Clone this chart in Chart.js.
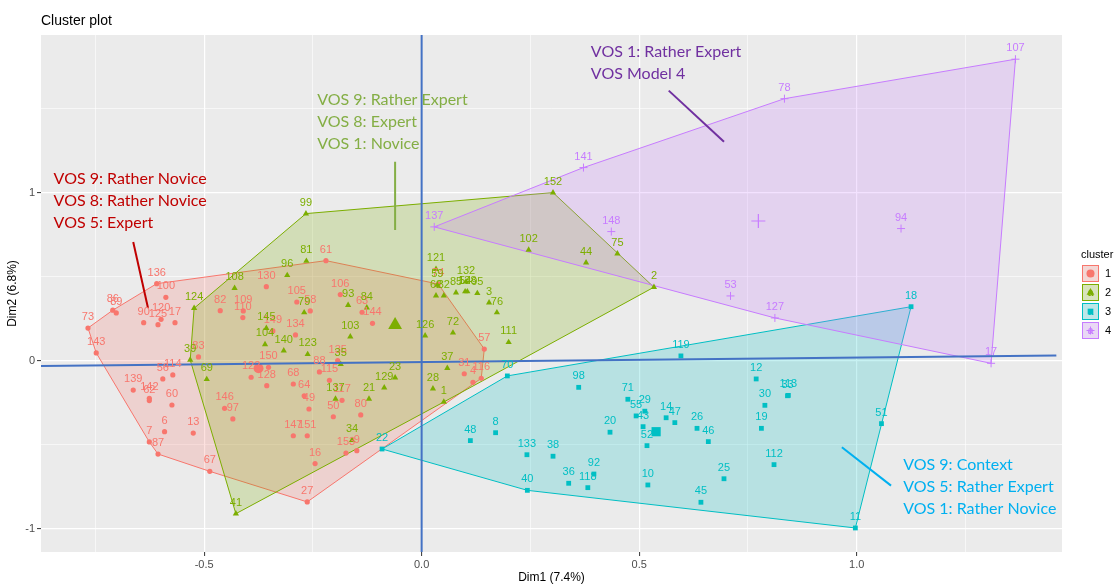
<!DOCTYPE html>
<html>
<head>
<meta charset="utf-8">
<script src="https://cdn.jsdelivr.net/npm/chart.js@4.4.1/dist/chart.umd.min.js"></script>
<style>
  html, body { margin: 0; padding: 0; background: #fff; }
  #wrap { width: 1116px; height: 585px; }
</style>
</head>
<body>
<div id="wrap"><canvas id="clusterChart" width="1116" height="585"></canvas></div>
<script>
// observations per cluster: id, Dim1, Dim2
const cluster1Ids = ['136','100','86','89','73','90','120','125','17','143','83','114','56','139','142','62','60','6','13','7','87','67','146','97','122','82','109','110','130','61','106','105','58','63','144','149','134','135','150','128','88','115','68','64','49','117','80','50','147','151','27','16','153','9','74','57','31','4','116'];
const cluster1X = [-0.609,-0.588,-0.710,-0.702,-0.767,-0.639,-0.599,-0.606,-0.567,-0.748,-0.513,-0.572,-0.595,-0.663,-0.626,-0.626,-0.574,-0.591,-0.525,-0.626,-0.606,-0.487,-0.453,-0.434,-0.392,-0.463,-0.410,-0.411,-0.357,-0.220,-0.187,-0.287,-0.256,-0.137,-0.113,-0.342,-0.290,-0.193,-0.352,-0.356,-0.235,-0.212,-0.295,-0.270,-0.259,-0.183,-0.140,-0.203,-0.295,-0.263,-0.263,-0.245,-0.174,-0.149,0.038,0.144,0.098,0.118,0.137];
const cluster1Y = [0.460,0.379,0.302,0.286,0.196,0.228,0.248,0.216,0.228,0.048,0.024,-0.083,-0.107,-0.173,-0.222,-0.236,-0.262,-0.421,-0.429,-0.482,-0.554,-0.657,-0.282,-0.345,-0.097,0.299,0.298,0.258,0.442,0.597,0.395,0.351,0.298,0.290,0.224,0.179,0.155,0.002,-0.038,-0.147,-0.065,-0.115,-0.137,-0.207,-0.286,-0.234,-0.321,-0.332,-0.445,-0.445,-0.839,-0.611,-0.548,-0.534,0.458,0.071,-0.076,-0.127,-0.103];

const cluster2Ids = ['99','152','2','102','44','75','121','59','62','32','85','54','132','138','95','3','76','126','72','111','37','28','1','124','108','96','81','79','93','84','103','145','104','140','123','35','39','69','137','21','129','23','34','41'];
const cluster2X = [-0.266,0.302,0.534,0.246,0.378,0.450,0.033,0.036,0.033,0.051,0.079,0.100,0.102,0.105,0.128,0.155,0.173,0.008,0.072,0.200,0.059,0.026,0.051,-0.523,-0.430,-0.309,-0.265,-0.270,-0.169,-0.126,-0.164,-0.357,-0.360,-0.317,-0.262,-0.186,-0.532,-0.494,-0.198,-0.121,-0.086,-0.061,-0.160,-0.427];
const cluster2Y = [0.877,1.002,0.439,0.661,0.585,0.639,0.546,0.452,0.389,0.389,0.407,0.413,0.472,0.413,0.403,0.347,0.288,0.151,0.168,0.111,-0.043,-0.165,-0.244,0.314,0.433,0.510,0.595,0.288,0.332,0.317,0.145,0.195,0.099,0.061,0.040,-0.020,0.006,-0.109,-0.226,-0.226,-0.159,-0.099,-0.472,-0.909];

const cluster3Ids = ['22','70','119','18','51','11','45','40','98','71','55','29','43','20','8','48','52','133','38','36','118','92','10','12','33','113','30','19','14','47','26','46','112','25'];
const cluster3X = [-0.091,0.197,0.596,1.125,1.057,0.997,0.642,0.243,0.361,0.474,0.493,0.513,0.509,0.433,0.170,0.112,0.518,0.242,0.302,0.338,0.382,0.396,0.520,0.769,0.841,0.843,0.789,0.781,0.562,0.582,0.633,0.659,0.810,0.695];
const cluster3Y = [-0.524,-0.089,0.030,0.323,-0.373,-0.994,-0.841,-0.770,-0.157,-0.228,-0.327,-0.299,-0.391,-0.424,-0.427,-0.474,-0.504,-0.558,-0.567,-0.728,-0.754,-0.673,-0.738,-0.107,-0.207,-0.205,-0.264,-0.401,-0.338,-0.367,-0.401,-0.480,-0.617,-0.701];

const cluster4Ids = ['137','141','78','107','148','94','53','127','17'];
const cluster4X = [0.029,0.372,0.834,1.365,0.436,1.102,0.710,0.812,1.309];
const cluster4Y = [0.798,1.151,1.561,1.796,0.770,0.788,0.387,0.256,-0.014];

// cluster centres
const centerX = [-0.375, -0.061, 0.539, 0.774];
const centerY = [-0.043, 0.214, -0.421, 0.833];

// axes
const xGridValues = [-0.75, -0.5, -0.25, 0, 0.25, 0.5, 0.75, 1, 1.25];
const yGridValues = [-1, -0.5, 0, 0.5, 1, 1.5];

// reference lines drawn on top of the plot
const hLineX = [-0.875, 1.459];
const hLineY = [-0.030, 0.032];
const vLineX = [0, 0];
const vLineY = [-1.137, 1.94];

const clusterNames = ['1', '2', '3', '4'];
const colors = ['#F8766D', '#7CAE00', '#00BFC4', '#C77CFF'];
const fills = ['rgba(248,118,109,0.22)', 'rgba(124,174,0,0.22)', 'rgba(0,191,196,0.22)', 'rgba(199,124,255,0.22)'];
const shapes = ['circle', 'triangle', 'rect', 'cross'];
const pointSizes = [2.6, 3.6, 3.4, 4];
const centerSizes = [5, 8, 6.5, 7];

// call-out notes
const notes = [
  { lines: ['VOS 9: Rather Novice', 'VOS 8: Rather Novice', 'VOS 5: Expert'], color: '#C00000',
    x: -0.846, y: 1.083, leaderX: [-0.663, -0.629], leaderY: [0.708, 0.315] },
  { lines: ['VOS 9: Rather Expert', 'VOS 8: Expert', 'VOS 1: Novice'], color: '#84AE45',
    x: -0.240, y: 1.554, leaderX: [-0.061, -0.061], leaderY: [1.185, 0.780] },
  { lines: ['VOS 1: Rather Expert', 'VOS Model 4'], color: '#7030A0',
    x: 0.389, y: 1.841, leaderX: [0.568, 0.695], leaderY: [1.609, 1.305] },
  { lines: ['VOS 9: Context', 'VOS 5: Rather Expert', 'VOS 1: Rather Novice'], color: '#00B0F0',
    x: 1.107, y: -0.619, leaderX: [0.966, 1.079], leaderY: [-0.514, -0.742] }
];

const clusters = [
  { ids: cluster1Ids, xs: cluster1X, ys: cluster1Y },
  { ids: cluster2Ids, xs: cluster2X, ys: cluster2Y },
  { ids: cluster3Ids, xs: cluster3X, ys: cluster3Y },
  { ids: cluster4Ids, xs: cluster4X, ys: cluster4Y }
];

function convexHull(xs, ys) {
  const pts = xs.map((x, i) => ({ x: x, y: ys[i] })).sort((a, b) => a.x - b.x || a.y - b.y);
  const cross = (o, a, b) => (a.x - o.x) * (b.y - o.y) - (a.y - o.y) * (b.x - o.x);
  const lower = [];
  for (const p of pts) {
    while (lower.length >= 2 && cross(lower[lower.length - 2], lower[lower.length - 1], p) <= 0) lower.pop();
    lower.push(p);
  }
  const upper = [];
  for (let i = pts.length - 1; i >= 0; i--) {
    const p = pts[i];
    while (upper.length >= 2 && cross(upper[upper.length - 2], upper[upper.length - 1], p) <= 0) upper.pop();
    upper.push(p);
  }
  upper.pop();
  lower.pop();
  const hull = lower.concat(upper);
  hull.push(hull[0]);
  return hull;
}

const datasets = [];

clusters.forEach((c, k) => {
  datasets.push({
    data: convexHull(c.xs, c.ys),
    showLine: true,
    fill: 'shape',
    backgroundColor: fills[k],
    borderColor: colors[k],
    borderWidth: 1,
    pointRadius: 0,
    tension: 0,
    order: 20 - k
  });
});

clusters.forEach((c, k) => {
  datasets.push({
    data: c.ids.map((id, i) => ({ x: c.xs[i], y: c.ys[i], id: id })),
    pointStyle: shapes[k],
    pointRadius: pointSizes[k],
    backgroundColor: colors[k],
    borderColor: colors[k],
    borderWidth: k === 3 ? 1 : 0,
    pointLabels: true,
    labelColor: colors[k],
    order: 10 - k
  });
});

clusters.forEach((c, k) => {
  datasets.push({
    data: [{ x: centerX[k], y: centerY[k] }],
    pointStyle: shapes[k],
    pointRadius: centerSizes[k],
    backgroundColor: colors[k],
    borderColor: colors[k],
    borderWidth: k === 3 ? 1.2 : 0,
    order: 5
  });
});

notes.forEach(n => {
  datasets.push({
    data: n.leaderX.map((x, i) => ({ x: x, y: n.leaderY[i] })),
    showLine: true,
    borderColor: n.color,
    borderWidth: 2,
    pointRadius: 0,
    order: 2
  });
});

datasets.push({
  data: hLineX.map((x, i) => ({ x: x, y: hLineY[i] })),
  showLine: true, borderColor: '#4472C4', borderWidth: 2, pointRadius: 0, order: 1
});
datasets.push({
  data: vLineX.map((x, i) => ({ x: x, y: vLineY[i] })),
  showLine: true, borderColor: '#4472C4', borderWidth: 2, pointRadius: 0, order: 1
});

const isMajorX = v => Math.abs(v * 2 - Math.round(v * 2)) < 1e-6;
const isMajorY = v => Math.abs(v - Math.round(v)) < 1e-6;

const panelBg = {
  id: 'panelBg',
  beforeDraw(chart) {
    const { ctx, chartArea: a } = chart;
    ctx.save();
    ctx.fillStyle = '#EBEBEB';
    ctx.fillRect(a.left, a.top, a.right - a.left, a.bottom - a.top);
    ctx.restore();
  }
};

const pointLabels = {
  id: 'pointLabels',
  afterDatasetsDraw(chart) {
    const ctx = chart.ctx;
    ctx.save();
    ctx.font = '11px "Liberation Sans", Arial, sans-serif';
    ctx.textAlign = 'center';
    ctx.textBaseline = 'middle';
    chart.data.datasets.forEach((ds, i) => {
      if (!ds.pointLabels) return;
      const meta = chart.getDatasetMeta(i);
      ctx.fillStyle = ds.labelColor;
      meta.data.forEach((el, j) => {
        ctx.fillText(ds.data[j].id, el.x, el.y - 11);
      });
    });
    ctx.restore();
  }
};

const decorations = {
  id: 'decorations',
  afterDraw(chart) {
    const { ctx, chartArea: a, scales } = chart;
    ctx.save();

    // call-out texts
    ctx.font = '16px Lato, "Open Sans", sans-serif';
    ctx.textAlign = 'left';
    ctx.textBaseline = 'middle';
    notes.forEach(n => {
      const px = scales.x.getPixelForValue(n.x);
      const py = scales.y.getPixelForValue(n.y);
      ctx.fillStyle = n.color;
      n.lines.forEach((t, i) => ctx.fillText(t, px, py + i * 22));
    });

    // title and axis titles
    ctx.fillStyle = '#000';
    ctx.font = '14px "Liberation Sans", Arial, sans-serif';
    ctx.fillText('Cluster plot', a.left, 21);
    ctx.font = '12px "Liberation Sans", Arial, sans-serif';
    ctx.textAlign = 'center';
    ctx.fillText('Dim1 (7.4%)', (a.left + a.right) / 2, 578);
    ctx.save();
    ctx.translate(13, (a.top + a.bottom) / 2);
    ctx.rotate(-Math.PI / 2);
    ctx.fillText('Dim2 (6.8%)', 0, 0);
    ctx.restore();

    // legend
    const lx = 1082, ly = 265, box = 17, gap = 19;
    ctx.textAlign = 'left';
    ctx.font = '11px "Liberation Sans", Arial, sans-serif';
    ctx.fillStyle = '#000';
    ctx.fillText('cluster', lx - 1, 255);
    clusterNames.forEach((name, k) => {
      const top = ly + k * gap;
      ctx.fillStyle = '#F2F2F2';
      ctx.fillRect(lx, top, box, box);
      ctx.fillStyle = fills[k];
      ctx.fillRect(lx, top, box, box);
      ctx.strokeStyle = colors[k];
      ctx.lineWidth = 1;
      ctx.strokeRect(lx + 0.5, top + 0.5, box - 1, box - 1);
      ctx.fillStyle = colors[k];
      ctx.font = 'bold 10px "Liberation Sans", Arial, sans-serif';
      ctx.textAlign = 'center';
      ctx.fillText('a', lx + box / 2, top + box / 2 + 1);
      Chart.helpers.drawPoint(ctx, {
        pointStyle: shapes[k], radius: k === 1 ? 4.5 : 4, borderWidth: k === 3 ? 1 : 0
      }, lx + box / 2, top + box / 2);
      ctx.fillStyle = '#000';
      ctx.font = '11px "Liberation Sans", Arial, sans-serif';
      ctx.textAlign = 'left';
      ctx.fillText(name, lx + box + 6, top + box / 2);
    });
    ctx.restore();
  }
};

new Chart(document.getElementById('clusterChart'), {
  type: 'scatter',
  data: { datasets: datasets },
  options: {
    responsive: false,
    animation: false,
    layout: { padding: { top: 35, right: 54, bottom: 0, left: 0 } },
    plugins: {
      legend: { display: false },
      tooltip: { enabled: false },
      title: { display: false }
    },
    scales: {
      x: {
        type: 'linear',
        min: -0.875,
        max: 1.472,
        afterBuildTicks: s => { s.ticks = xGridValues.map(v => ({ value: v })); },
        afterFit: s => { s.height = 33; },
        border: { display: false },
        grid: {
          color: '#FFFFFF',
          lineWidth: c => (c.tick && isMajorX(c.tick.value)) ? 1.2 : 0.6,
          tickLength: 4,
          tickWidth: 1,
          tickColor: c => (c.tick && isMajorX(c.tick.value)) ? '#333333' : 'rgba(0,0,0,0)'
        },
        ticks: {
          autoSkip: false,
          maxRotation: 0,
          padding: 2,
          color: '#4D4D4D',
          font: { size: 11, family: '"Liberation Sans", Arial, sans-serif' },
          callback: v => isMajorX(v) ? v.toFixed(1) : ''
        }
      },
      y: {
        type: 'linear',
        min: -1.137,
        max: 1.94,
        afterBuildTicks: s => { s.ticks = yGridValues.map(v => ({ value: v })); },
        afterFit: s => { s.width = 41; },
        border: { display: false },
        grid: {
          color: '#FFFFFF',
          lineWidth: c => (c.tick && isMajorY(c.tick.value)) ? 1.2 : 0.6,
          tickLength: 4,
          tickWidth: 1,
          tickColor: c => (c.tick && isMajorY(c.tick.value)) ? '#333333' : 'rgba(0,0,0,0)'
        },
        ticks: {
          autoSkip: false,
          padding: 2,
          color: '#4D4D4D',
          font: { size: 11, family: '"Liberation Sans", Arial, sans-serif' },
          callback: v => isMajorY(v) ? String(Math.round(v)) : ''
        }
      }
    }
  },
  plugins: [panelBg, pointLabels, decorations]
});
</script>
</body>
</html>
